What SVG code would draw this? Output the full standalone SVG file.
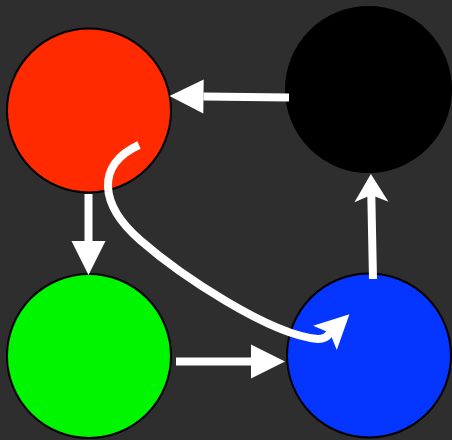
<svg xmlns="http://www.w3.org/2000/svg" width="452" height="440" viewBox="0 0 452 440">
  <style>
    .node { stroke: #000; stroke-width: 2; }
    .edge { fill: none; stroke: #fff; stroke-width: 8; stroke-linecap: butt; }
    .head { fill: #fff; stroke: none; }
  </style>
  <defs>
    <marker id="arrow" markerUnits="userSpaceOnUse" markerWidth="34" markerHeight="34" refX="0" refY="17" orient="auto" overflow="visible">
      <path class="head" d="M0,0 L34,17 L0,34 Z"/>
    </marker>
    <marker id="arrowShort" markerUnits="userSpaceOnUse" markerWidth="28" markerHeight="34" refX="7" refY="17" orient="auto" overflow="visible">
      <path class="head" d="M0,0 L28,17 L0,34 L7,17 Z"/>
    </marker>
    <marker id="arrowCurve" markerUnits="userSpaceOnUse" markerWidth="34" markerHeight="34" refX="7" refY="17" orient="-44" overflow="visible">
      <path class="head" d="M0,0 L34,17 L0,34 L7,17 Z"/>
    </marker>
  </defs>
  <rect width="452" height="440" fill="#2e2e2e"/>
  <g id="node-red">
    <circle class="node" cx="89" cy="110.5" r="82" fill="#ff2a00"/>
  </g>
  <g id="node-black">
    <circle class="node" cx="368.5" cy="89.5" r="82.5" fill="#000"/>
  </g>
  <g id="node-green">
    <circle class="node" cx="89" cy="356" r="82" fill="#00f500"/>
  </g>
  <g id="node-blue">
    <circle class="node" cx="369" cy="355.5" r="82" fill="#0436ff"/>
  </g>
  <g id="connectors">
    <path class="edge" d="M289,97.5 L203.5,96.5" marker-end="url(#arrow)"/>
    <path class="edge" d="M88.5,194 L88.5,241" marker-end="url(#arrow)"/>
    <path class="edge" d="M176,361.5 L251,361.5" marker-end="url(#arrow)"/>
    <path class="edge" d="M373,279 L371.3,195" marker-end="url(#arrowShort)"/>
    <path class="edge" d="M139,145 C95,165 100,205 140,240 S270,335 318,339 Q326,339 330,333" marker-end="url(#arrowCurve)"/>
  </g>
</svg>
